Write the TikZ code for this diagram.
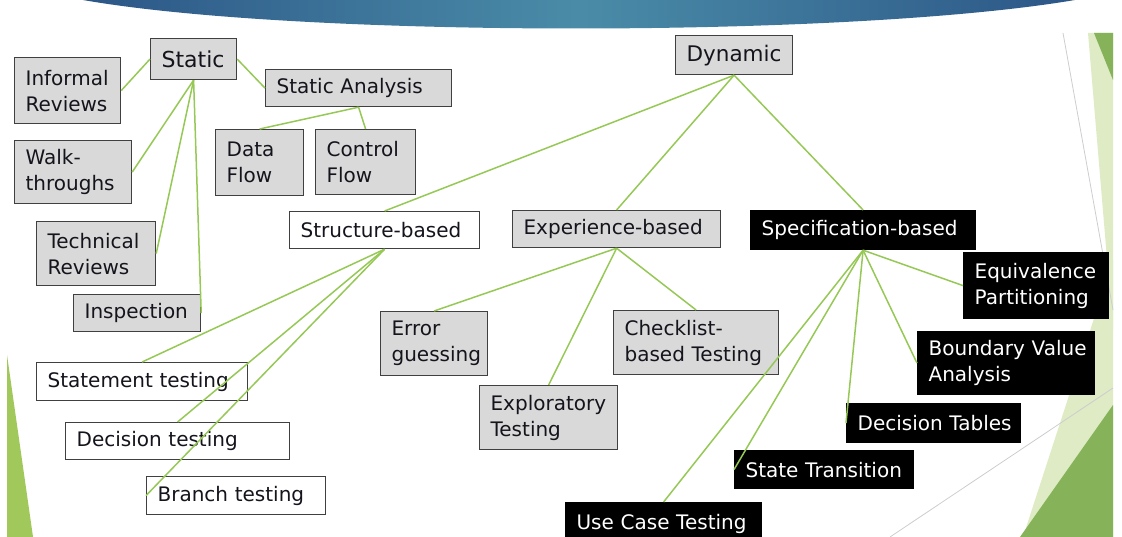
\documentclass[tikz,border=0pt]{standalone}
\usepackage{fontspec}
\setmainfont{DejaVu Sans}
\definecolor{lnk}{RGB}{150,200,85}
\definecolor{boxg}{RGB}{217,217,217}
\definecolor{bord}{RGB}{64,64,64}
\definecolor{txt}{RGB}{20,20,28}
\definecolor{bdark}{RGB}{44,86,135}
\definecolor{bmid}{RGB}{74,140,168}
\definecolor{lgreen}{RGB}{222,235,196}
\definecolor{dgreen}{RGB}{134,178,90}
\definecolor{lgreentwo}{RGB}{160,200,90}
\definecolor{thingray}{RGB}{205,205,205}
\begin{document}
\begin{tikzpicture}[x=1pt,y=-1pt,
  bx/.style={draw=bord, line width=1.2pt, anchor=north west, inner xsep=11pt, inner ysep=0pt,
    align=left, text=txt, font=\fontsize{20}{26}\selectfont},
  gbx/.style={bx, fill=boxg},
  wbx/.style={bx, fill=white},
  kbx/.style={bx, fill=black, draw=black, text=white},
  lnkline/.style={draw=lnk, line width=1.5pt},
  decoline/.style={draw=thingray, line width=0.8pt}]
\useasboundingbox (0,0) rectangle (1122,537);
% background decorations
\shade[left color=bdark, right color=bdark, middle color=bmid]
  (83,-2) -- (83,0) .. controls (300,38) and (850,38) .. (1075,0) -- (1075,-2) -- cycle;
\fill[lgreen] (1088,33) -- (1113,33) -- (1113,330) -- cycle;
\fill[lgreen] (1023,537) -- (1113,260) -- (1113,537) -- cycle;
\fill[dgreen] (1094,33) -- (1113,33) -- (1113,80) -- cycle;
\fill[dgreen] (1020,537) -- (1113,405) -- (1113,537) -- cycle;
\draw[decoline] (1063,33) -- (1113,310);
\draw[decoline] (890,537) -- (1113,388);
\fill[lgreentwo] (7,355) -- (33,537) -- (7,537) -- cycle;
% nodes
\node[gbx, text width=64pt, minimum height=41pt, font=\fontsize{22}{26}\selectfont] (static) at (150,38) {Static};
\node[gbx, text width=84pt, minimum height=66pt] (informal) at (14,57) {Informal\\Reviews};
\node[gbx, text width=95pt, minimum height=63pt] (walk) at (14,140) {Walk-\\throughs};
\node[gbx, text width=97pt, minimum height=64pt] (tech) at (36,221) {Technical\\Reviews};
\node[gbx, text width=105pt, minimum height=37pt] (insp) at (73,294) {Inspection};
\node[gbx, text width=164pt, minimum height=37pt] (sa) at (265,69) {\mbox{Static Analysis}};
\node[gbx, text width=66pt, minimum height=66pt] (data) at (215,129) {Data\\Flow};
\node[gbx, text width=78pt, minimum height=65pt] (control) at (315,129) {Control\\Flow};
\node[gbx, text width=95pt, minimum height=39pt, font=\fontsize{21.5}{26}\selectfont] (dynamic) at (675,35) {Dynamic};
\node[wbx, text width=168pt, minimum height=37pt] (struct) at (289,211) {\mbox{Structure-based}};
\node[gbx, text width=186pt, minimum height=37pt] (exp) at (512,210) {\mbox{Experience-based}};
\node[kbx, text width=203pt, minimum height=39pt] (spec) at (750,210) {\mbox{Specification-based}};
\node[wbx, text width=189pt, minimum height=38pt] (stmt) at (36,362) {\mbox{Statement testing}};
\node[wbx, text width=202pt, minimum height=37pt] (dec) at (65,422) {\mbox{Decision testing}};
\node[wbx, text width=157pt, minimum height=38pt] (branch) at (146,476) {\mbox{Branch testing}};
\node[gbx, text width=85pt, minimum height=64pt] (err) at (380,311) {Error\\guessing};
\node[gbx, text width=116pt, minimum height=64pt] (explor) at (479,385) {Exploratory\\Testing};
\node[gbx, text width=143pt, minimum height=64pt] (check) at (613,310) {Checklist-\\\mbox{based Testing}};
\node[kbx, text width=123pt, minimum height=66pt] (equiv) at (963,252) {Equivalence\\Partitioning};
\node[kbx, text width=155pt, minimum height=63pt] (bva) at (917,331) {\mbox{Boundary Value}\\Analysis};
\node[kbx, text width=152pt, minimum height=39pt] (dt) at (846,403) {\mbox{Decision Tables}};
\node[kbx, text width=157pt, minimum height=38pt] (st) at (734,450) {\mbox{State Transition}};
\node[kbx, text width=174pt, minimum height=42pt] (uc) at (565,502) {\mbox{Use Case Testing}};
% connectors
\draw[lnkline] (static.west) -- (informal.east);
\draw[lnkline] (static.south) -- (walk.east);
\draw[lnkline] (static.south) -- (tech.east);
\draw[lnkline] (static.south) -- (insp.east);
\draw[lnkline] (static.east) -- (sa.west);
\draw[lnkline] (sa.south) -- (data.north);
\draw[lnkline] (sa.south) -- (control.north);
\draw[lnkline] (dynamic.south) -- (struct.north);
\draw[lnkline] (dynamic.south) -- (exp.north);
\draw[lnkline] (dynamic.south) -- (spec.north);
\draw[lnkline] (struct.south) -- (stmt.north);
\draw[lnkline] (struct.south) -- (dec.north);
\draw[lnkline] (struct.south) -- (branch.west);
\draw[lnkline] (exp.south) -- (err.north);
\draw[lnkline] (exp.south) -- (explor.north);
\draw[lnkline] (exp.south) -- (check.north);
\draw[lnkline] (spec.south) -- (equiv.west);
\draw[lnkline] (spec.south) -- (bva.west);
\draw[lnkline] (spec.south) -- (dt.west);
\draw[lnkline] (spec.south) -- (st.west);
\draw[lnkline] (spec.south) -- (uc.north);
\end{tikzpicture}
\end{document}
